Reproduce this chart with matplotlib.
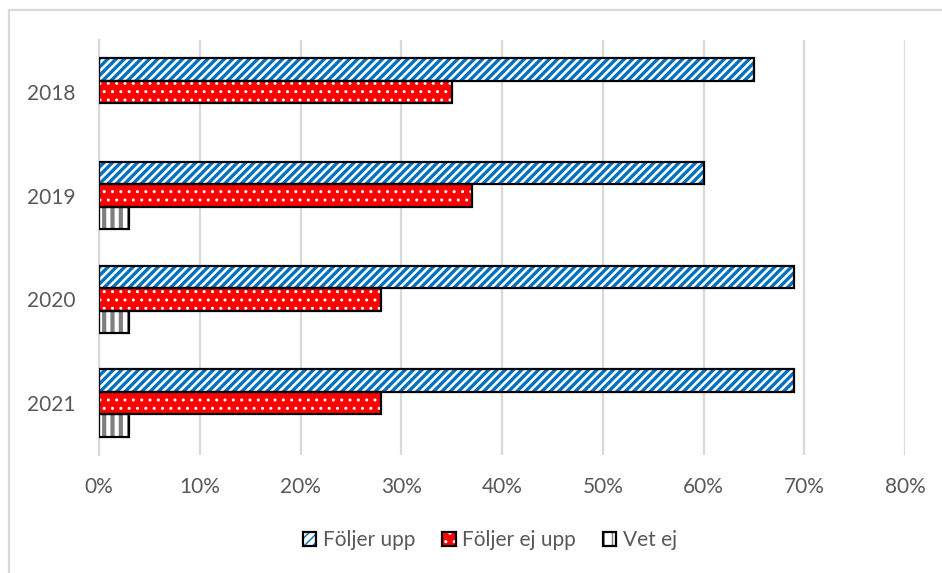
import numpy as np
import matplotlib.pyplot as plt
from matplotlib.patches import Patch, Rectangle
from matplotlib.legend_handler import HandlerTuple
from matplotlib.ticker import PercentFormatter

# data
years = ['2018', '2019', '2020', '2021']
foljer_upp = [65, 60, 69, 69]
foljer_ej_upp = [35, 37, 28, 28]
vet_ej = [0, 3, 3, 3]

series = [
    ('Följer upp', foljer_upp, 'white', '#0070c0', '////', 2.4),
    ('Följer ej upp', foljer_ej_upp, '#ff0000', 'white', '..', 1.0),
    ('Vet ej', vet_ej, 'white', '#7f7f7f', '||', 3.0),
]

txt = '#595959'
plt.rcParams['font.family'] = ['Lato', 'DejaVu Sans']

fig = plt.figure(figsize=(9.42, 5.73), dpi=100)
ax = fig.add_axes([99 / 942, 1 - 455 / 573, (905 - 99) / 942, (455 - 40) / 573])

y = np.arange(len(years))
h = 0.217
handles = []
for i, (name, vals, fc, hc, hatch, hlw) in enumerate(series):
    pos = y + (i - 1) * h
    with plt.rc_context({'hatch.linewidth': hlw}):
        ax.barh(pos, vals, height=h, color=fc, edgecolor=hc, hatch=hatch,
                linewidth=0, zorder=2)
        hp = Patch(facecolor=fc, edgecolor=hc, hatch=hatch, linewidth=0)
    # black outline on top, skip zero bars
    for p, v in zip(pos, vals):
        if v > 0:
            ax.barh(p, v, height=h, fill=False, edgecolor='black',
                    linewidth=1.6, zorder=3)
    op = Patch(fill=False, edgecolor='black', linewidth=1.6)
    handles.append((hp, op))

ax.set_xlim(0, 80)
ax.set_ylim(len(years) - 0.5, -0.5)
ax.set_xticks(np.arange(0, 81, 10))
ax.xaxis.set_major_formatter(PercentFormatter(decimals=0))
ax.set_yticks(y)
ax.set_yticklabels(years)
ax.grid(axis='x', color='#d9d9d9', linewidth=1.6, zorder=0)
ax.set_axisbelow(True)
for s in ax.spines.values():
    s.set_visible(False)
ax.spines['left'].set_visible(True)
ax.spines['left'].set_color('#d9d9d9')
ax.spines['left'].set_linewidth(1.6)
ax.tick_params(axis='both', length=0, labelsize=15, colors=txt)
ax.tick_params(axis='x', pad=16)
ax.tick_params(axis='y', pad=17)

leg = fig.legend(handles, [s[0] for s in series],
                 handler_map={tuple: HandlerTuple(ndivide=1)},
                 loc='center', bbox_to_anchor=(0.52, 1 - 540 / 573),
                 ncol=3, frameon=False, fontsize=15, labelcolor=txt,
                 handlelength=0.65, handleheight=0.65, handletextpad=0.3,
                 columnspacing=1.3)

# chart area border (cropped on right and bottom)
fig.add_artist(Rectangle((9 / 942, -0.05), 1.1, 1 - 10 / 573 + 0.05,
                         transform=fig.transFigure, fill=False,
                         edgecolor='#d9d9d9', linewidth=1.6, clip_on=False))

fig.savefig('out.png', dpi=100)
